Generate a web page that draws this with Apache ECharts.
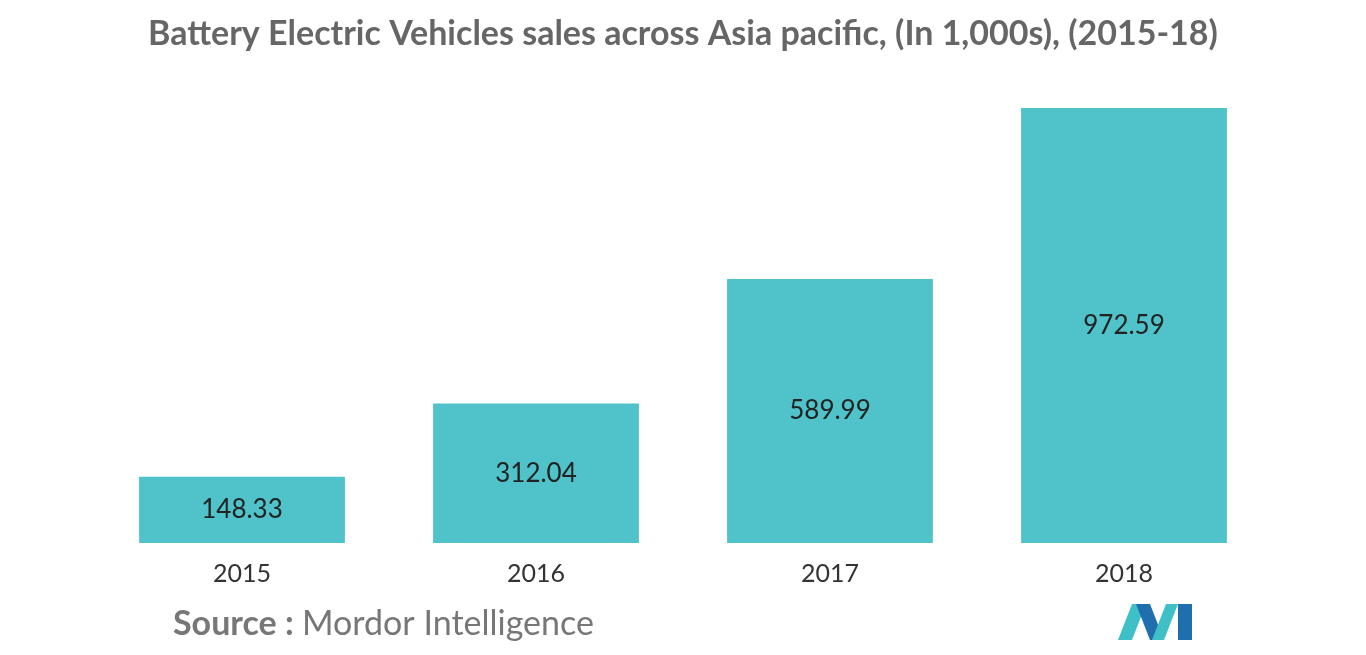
<!DOCTYPE html>
<html>
<head>
<meta charset="utf-8">
<script src="https://cdn.jsdelivr.net/npm/echarts@6/dist/echarts.min.js"></script>
<style>
html,body{margin:0;padding:0;background:#fff;}
#chart{width:1366px;height:655px;}
</style>
</head>
<body>
<div id="chart"></div>
<script>
var years = ['2015', '2016', '2017', '2018'];
var sales = [148.33, 312.04, 589.99, 972.59];

var chart = echarts.init(document.getElementById('chart'));
var font = 'Lato, "Open Sans", sans-serif';
var option = {
	animation: false,
	title: {
		text: 'Battery Electric Vehicles sales across Asia pacific, (In 1,000s), (2015-18)',
		left: 'center',
		top: 12,
		textStyle: { color: '#666', fontSize: 34, fontWeight: 'bold', fontFamily: font }
	},
	grid: { left: 95, right: 95, top: 108, bottom: 112 },
	xAxis: {
		type: 'category',
		data: years,
		axisLine: { show: false },
		axisTick: { show: false },
		axisLabel: { color: '#333', fontSize: 25, margin: 18, fontFamily: font }
	},
	yAxis: {
		type: 'value',
		min: 0,
		max: 972.59,
		show: false
	},
	series: [{
		type: 'bar',
		data: sales,
		barWidth: '70%',
		itemStyle: { color: '#4fc3c9' },
		label: {
			show: true,
			position: 'inside',
			formatter: function (p) { return p.value.toFixed(2); },
			color: '#222',
			fontSize: 26,
			fontFamily: font
		}
	}],
	graphic: [
		{ type: 'text', left: 173, top: 607, style: { text: 'Source :', fill: '#777', font: 'bold 34px Lato, sans-serif' } },
		{ type: 'text', left: 302, top: 607, style: { text: 'Mordor Intelligence', fill: '#777', font: '34px Lato, sans-serif' } },
		// logo
		{ type: 'polygon', shape: { points: [[1118, 640], [1132, 604], [1146, 604], [1132, 640]] }, style: { fill: '#3fbfc6' } },
		{ type: 'polygon', shape: { points: [[1136, 604], [1150, 604], [1164, 640], [1150, 640]] }, style: { fill: '#1f6fae' } },
		{ type: 'polygon', shape: { points: [[1152, 640], [1166, 604], [1178, 604], [1164, 640]] }, style: { fill: '#3fbfc6' } },
		{ type: 'polygon', shape: { points: [[1178, 604], [1192, 604], [1192, 640], [1178, 640]] }, style: { fill: '#1f6fae' } }
	]
};
chart.setOption(option);
</script>
</body>
</html>
